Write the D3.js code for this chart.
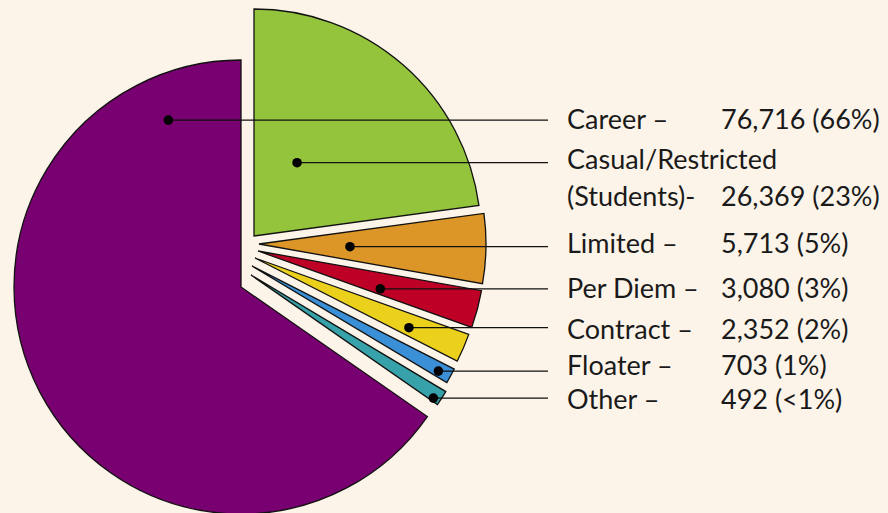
<!DOCTYPE html>
<html>
<head>
<meta charset="utf-8">
<script src="https://cdn.jsdelivr.net/npm/d3@7"></script>
<style>
  html, body { margin: 0; padding: 0; background: #fcf4e9; }
  svg { display: block; }
  .label { font-family: Lato, "Open Sans", sans-serif; font-size: 27px; fill: #1a1a1a; }
</style>
</head>
<body>
<div id="chart"></div>
<script>
  // Données
  var categories = ["Career", "Casual/Restricted (Students)", "Limited", "Per Diem", "Contract", "Floater", "Other"];
  var values = [76716, 26369, 5713, 3080, 2352, 703, 492];
  var labelText = ["Career –", "Casual/Restricted", "Limited –", "Per Diem –", "Contract –", "Floater –", "Other –"];
  var labelText2 = [null, "(Students)-", null, null, null, null, null];
  var valueText = ["76,716 (66%)", "26,369 (23%)", "5,713 (5%)", "3,080 (3%)", "2,352 (2%)", "703 (1%)", "492 (<1%)"];

  // Attributs du graphique
  var width = 888, height = 513;
  var colors = ["#790070", "#94c43c", "#dc9628", "#be0027", "#ebd11c", "#3a8fd6", "#37a2a9"];
  var center = {x: 241, y: 287};
  var radius = 227;
  var minAngle = 3.9 * Math.PI / 180;
  // ordre de dessin (sens horaire depuis midi), Career en dernier
  var order = [1, 2, 3, 4, 5, 6, 0];
  // décalage de chaque part (éclaté)
  var explode = [[0, 0], [13, -51], [18, -43], [17, -36], [14, -29], [11, -21], [10, -12]];
  // point d'ancrage du trait : fraction de l'angle, rayon
  var anchor = [[0.9, 182], [0.37, 85], [0.53, 91], [0.74, 128], [0.64, 169], [0.62, 214], [0.8, 220]];
  // petit décalage vertical du texte par rapport au trait
  var textShift = [0, -3, -3, 0, 2, -5, 2];
  var lineEnd = 548, labelX = 567, valueX = 721;

  var svg = d3.select("#chart")
    .append("svg")
    .attr("width", width)
    .attr("height", height);

  svg.append("rect")
    .attr("width", width)
    .attr("height", height)
    .attr("fill", "#fcf4e9");

  // Angles : proportionnels, avec un minimum pour les petites parts
  var total = d3.sum(values);
  var angle = d3.scaleLinear().domain([0, total]).range([0, 2 * Math.PI]);
  var spans = values.map(function(v) { return angle(v); });
  var excess = 0;
  spans = spans.map(function(s) {
    if (s < minAngle) { excess += minAngle - s; return minAngle; }
    return s;
  });
  var biggest = d3.maxIndex(values);
  spans[biggest] -= excess;

  var slices = [];
  var a0 = 0;
  order.forEach(function(i) {
    slices.push({index: i, startAngle: a0, endAngle: a0 + spans[i]});
    a0 += spans[i];
  });

  var arc = d3.arc().innerRadius(0).outerRadius(radius);

  var g = svg.append("g");

  g.selectAll("path")
    .data(slices)
    .enter()
    .append("path")
    .attr("transform", function(d) {
      return `translate(${center.x + explode[d.index][0]},${center.y + explode[d.index][1]})`;
    })
    .attr("d", arc)
    .attr("fill", function(d) { return colors[d.index]; })
    .attr("stroke", "#111")
    .attr("stroke-width", 1.3)
    .attr("stroke-linejoin", "miter");

  // Points d'ancrage
  slices.forEach(function(d) {
    var i = d.index;
    var t = anchor[i][0], r = anchor[i][1];
    var a = d.startAngle + t * (d.endAngle - d.startAngle);
    d.px = center.x + explode[i][0] + r * Math.sin(a);
    d.py = center.y + explode[i][1] - r * Math.cos(a);
  });

  var leaders = svg.append("g");
  leaders.selectAll("line")
    .data(slices)
    .enter()
    .append("line")
    .attr("x1", function(d) { return d.px; })
    .attr("y1", function(d) { return d.py; })
    .attr("x2", lineEnd)
    .attr("y2", function(d) { return d.py; })
    .attr("stroke", "#111")
    .attr("stroke-width", 1.3);

  leaders.selectAll("circle")
    .data(slices)
    .enter()
    .append("circle")
    .attr("cx", function(d) { return d.px; })
    .attr("cy", function(d) { return d.py; })
    .attr("r", 4.8)
    .attr("fill", "#000");

  // Étiquettes
  var labels = svg.append("g");
  slices.forEach(function(d) {
    var i = d.index;
    var y = d.py + 9 + textShift[i];
    labels.append("text")
      .attr("class", "label")
      .attr("x", labelX)
      .attr("y", y)
      .text(labelText[i]);
    var vy = y;
    if (labelText2[i]) {
      vy = y + 37;
      labels.append("text")
        .attr("class", "label")
        .attr("x", labelX)
        .attr("y", vy)
        .text(labelText2[i]);
    }
    labels.append("text")
      .attr("class", "label")
      .attr("x", valueX)
      .attr("y", vy)
      .text(valueText[i]);
  });
</script>
</body>
</html>
